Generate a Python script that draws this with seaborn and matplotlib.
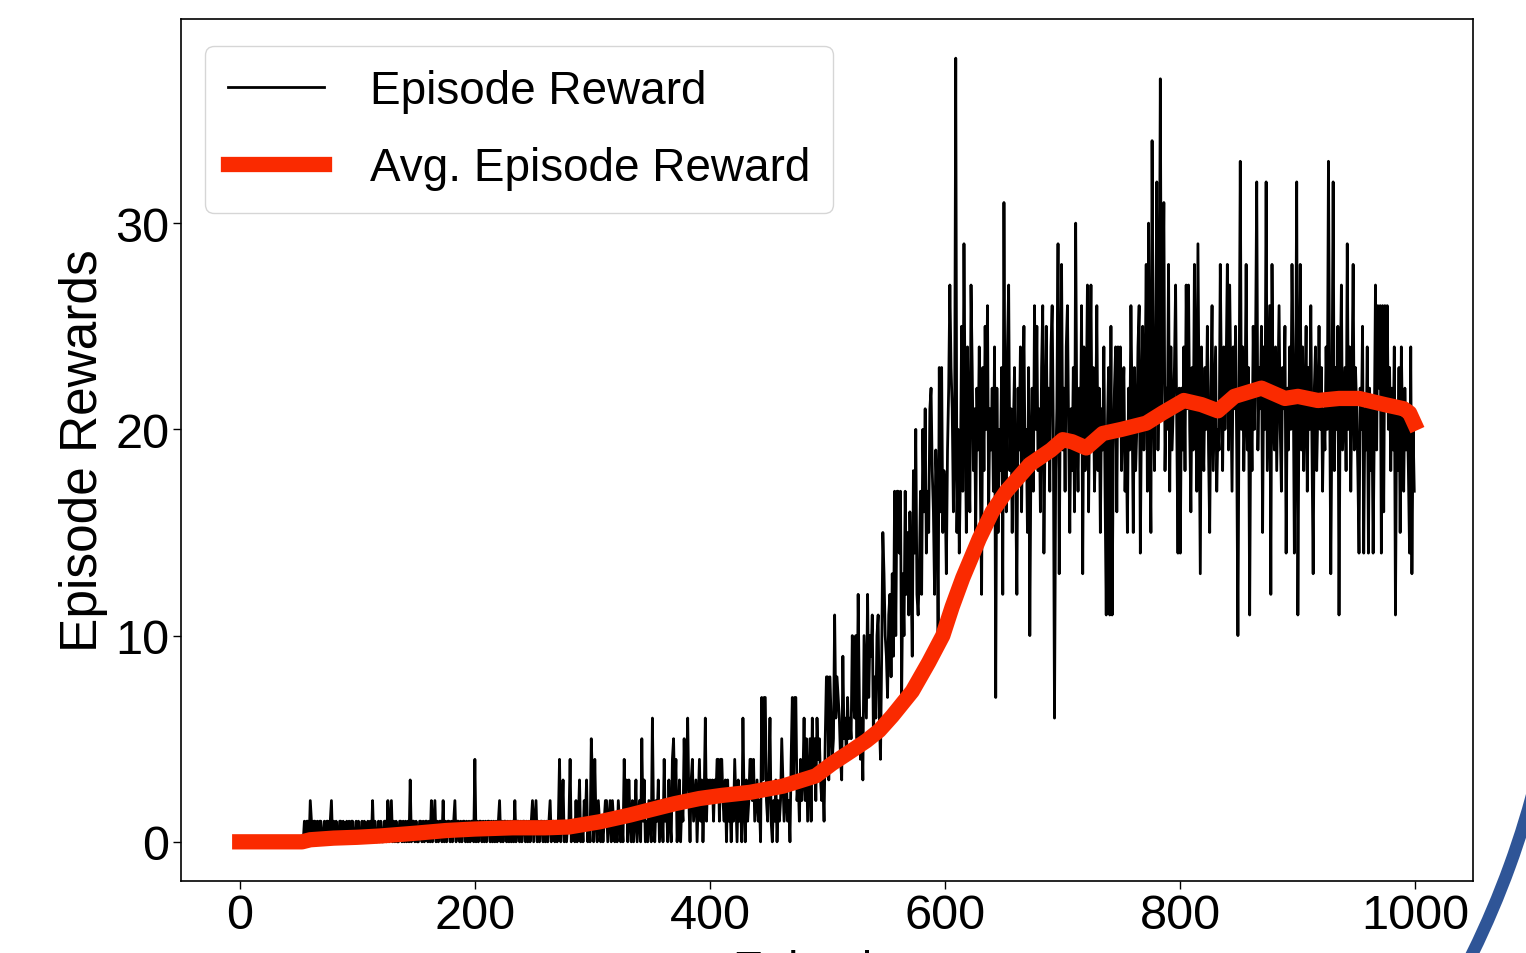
import matplotlib
matplotlib.use("Agg")
import matplotlib.pyplot as plt
from matplotlib.patches import Arc
from matplotlib.transforms import IdentityTransform
import pandas as pd
import seaborn as sns

# ---------------- data ----------------
rewards_000_099 = [
    0, 0, 0, 0, 0, 0, 0, 0, 0, 0, 0, 0, 0, 0, 0, 0, 0, 0, 0, 0,
    0, 0, 0, 0, 0, 0, 0, 0, 0, 0, 0, 0, 0, 0, 0, 0, 0, 0, 0, 0,
    0, 0, 0, 0, 0, 0, 0, 0, 0, 0, 0, 0, 0, 0, 0, 1, 0, 1, 1, 0,
    2, 1, 0, 1, 1, 0, 1, 0, 1, 1, 0, 0, 1, 0, 1, 1, 0, 1, 2, 0,
    1, 0, 1, 0, 0, 1, 1, 0, 1, 0, 0, 1, 0, 1, 0, 1, 1, 0, 0, 1,
]
rewards_100_199 = [
    0, 1, 0, 0, 1, 0, 1, 0, 0, 1, 0, 1, 0, 2, 0, 1, 0, 0, 1, 0,
    1, 0, 0, 1, 1, 0, 2, 0, 1, 2, 0, 1, 0, 1, 0, 0, 1, 1, 0, 1,
    0, 1, 0, 1, 0, 3, 0, 1, 1, 0, 1, 0, 0, 1, 1, 0, 1, 0, 1, 1,
    0, 1, 0, 2, 0, 1, 2, 0, 1, 0, 1, 1, 0, 2, 0, 1, 0, 1, 1, 0,
    1, 0, 1, 2, 0, 1, 1, 0, 1, 0, 1, 1, 0, 1, 0, 1, 0, 1, 1, 0,
]
rewards_200_299 = [
    4, 0, 1, 0, 1, 1, 0, 1, 0, 1, 0, 1, 1, 0, 1, 0, 1, 0, 1, 0,
    1, 2, 0, 1, 0, 1, 1, 0, 1, 0, 1, 0, 1, 0, 2, 0, 1, 1, 0, 1,
    0, 1, 1, 0, 1, 0, 1, 0, 1, 2, 0, 1, 2, 0, 1, 0, 1, 1, 0, 1,
    0, 1, 0, 1, 2, 0, 1, 1, 0, 1, 0, 1, 4, 0, 1, 3, 0, 1, 0, 1,
    1, 4, 0, 1, 1, 0, 2, 0, 1, 3, 0, 1, 0, 2, 1, 3, 0, 1, 0, 5,
]
rewards_300_399 = [
    3, 0, 4, 1, 0, 2, 1, 0, 1, 0, 1, 2, 2, 0, 1, 2, 0, 2, 1, 0,
    1, 0, 2, 1, 0, 1, 0, 4, 1, 3, 0, 3, 1, 0, 2, 0, 1, 3, 0, 1,
    2, 0, 5, 1, 3, 0, 1, 0, 2, 1, 0, 6, 1, 0, 2, 1, 3, 0, 1, 2,
    0, 4, 1, 2, 0, 3, 1, 0, 4, 5, 2, 4, 0, 1, 3, 0, 2, 1, 5, 2,
    3, 6, 2, 0, 3, 4, 1, 2, 3, 0, 2, 4, 1, 3, 0, 2, 6, 1, 3, 2,
]
rewards_400_499 = [
    3, 2, 3, 1, 3, 2, 4, 4, 1, 4, 4, 2, 1, 3, 0, 3, 1, 2, 0, 2,
    1, 4, 2, 0, 3, 1, 2, 0, 6, 2, 0, 3, 1, 2, 4, 4, 2, 4, 1, 2,
    3, 1, 2, 0, 7, 3, 7, 7, 2, 1, 3, 6, 1, 0, 2, 1, 3, 0, 2, 1,
    2, 5, 3, 1, 2, 3, 1, 2, 0, 4, 7, 3, 7, 7, 2, 3, 1, 4, 2, 3,
    6, 2, 5, 1, 3, 5, 1, 6, 3, 5, 2, 6, 4, 5, 3, 2, 3, 1, 5, 8,
]
rewards_500_599 = [
    8, 3, 8, 6, 4, 5, 11, 6, 8, 7, 6, 4, 3, 9, 5, 6, 4, 7, 5, 6,
    5, 10, 7, 6, 10, 5, 12, 7, 4, 6, 3, 10, 8, 6, 12, 7, 10, 9, 11, 5,
    8, 6, 10, 11, 6, 4, 9, 15, 13, 10, 9, 7, 11, 12, 8, 13, 9, 17, 10, 17,
    17, 14, 17, 7, 13, 10, 17, 12, 15, 11, 16, 13, 9, 18, 14, 20, 12, 11, 13, 17,
    12, 20, 16, 21, 14, 17, 15, 21, 22, 18, 16, 12, 19, 17, 10, 23, 16, 23, 15, 18,
]
rewards_600_699 = [
    17, 13, 19, 22, 27, 23, 21, 16, 19, 38, 15, 20, 14, 18, 25, 17, 29, 21, 15, 24,
    19, 16, 27, 23, 18, 21, 15, 22, 19, 24, 17, 12, 23, 18, 25, 20, 26, 16, 21, 19,
    22, 17, 24, 7, 22, 15, 20, 18, 23, 12, 31, 19, 16, 24, 27, 18, 21, 15, 20, 23,
    17, 12, 22, 19, 24, 16, 21, 25, 18, 20, 15, 23, 10, 19, 22, 17, 26, 20, 25, 18,
    21, 16, 23, 26, 14, 20, 25, 19, 22, 17, 24, 26, 20, 6, 18, 21, 29, 13, 22, 28,
]
rewards_700_799 = [
    19, 22, 17, 24, 26, 20, 15, 21, 18, 23, 16, 30, 20, 17, 22, 19, 26, 13, 24, 18,
    21, 27, 16, 22, 27, 19, 23, 17, 20, 26, 18, 22, 15, 21, 19, 24, 17, 11, 20, 23,
    11, 25, 11, 19, 22, 24, 16, 24, 20, 24, 18, 21, 23, 17, 20, 15, 22, 19, 26, 21,
    15, 23, 18, 20, 24, 26, 14, 21, 25, 19, 22, 28, 17, 30, 20, 15, 34, 22, 18, 24,
    32, 19, 23, 37, 21, 25, 31, 18, 22, 20, 28, 17, 24, 19, 21, 23, 27, 20, 14, 22,
]
rewards_800_899 = [
    14, 22, 19, 24, 18, 27, 21, 27, 20, 16, 23, 19, 28, 22, 17, 29, 21, 13, 24, 20,
    18, 23, 20, 25, 19, 15, 22, 26, 18, 21, 24, 17, 20, 19, 28, 22, 18, 24, 20, 23,
    28, 19, 27, 22, 17, 24, 21, 25, 19, 10, 22, 33, 20, 24, 18, 21, 28, 19, 23, 11,
    22, 18, 25, 20, 24, 32, 19, 23, 21, 25, 15, 24, 20, 32, 18, 22, 26, 12, 28, 21,
    19, 24, 18, 22, 26, 20, 17, 23, 21, 25, 14, 22, 19, 24, 20, 28, 23, 14, 21, 32,
]
rewards_900_999 = [
    11, 22, 28, 19, 24, 18, 21, 25, 17, 23, 20, 26, 19, 13, 22, 24, 18, 21, 25, 20,
    23, 17, 21, 19, 24, 20, 33, 22, 13, 21, 32, 18, 23, 20, 25, 11, 22, 27, 19, 21,
    23, 18, 29, 20, 24, 17, 22, 28, 19, 23, 21, 18, 14, 22, 20, 25, 14, 21, 19, 24,
    14, 22, 18, 21, 14, 20, 27, 19, 26, 22, 26, 14, 26, 16, 26, 21, 26, 20, 23, 18,
    22, 19, 24, 11, 21, 18, 23, 15, 24, 20, 17, 22, 19, 21, 18, 14, 24, 13, 20, 17,
]

avg_episodes = [0, 53, 60, 80, 100, 119, 150, 176, 200, 232, 260, 280, 306, 332,
                349, 370, 391, 410, 434, 462, 490, 504, 520, 533, 544, 555, 572,
                586, 598, 606, 615, 629, 640, 652, 672, 690, 700, 708, 720, 734,
                750, 771, 785, 803, 818, 832, 846, 869, 889, 900, 917, 935, 952,
                974, 990, 995, 999]
avg_values = [0.0, 0.0, 0.1, 0.18, 0.22, 0.28, 0.42, 0.55, 0.62, 0.68, 0.68, 0.72,
              0.97, 1.3, 1.55, 1.85, 2.1, 2.25, 2.4, 2.7, 3.2, 3.8, 4.4, 4.9, 5.4,
              6.1, 7.3, 8.7, 10.0, 11.4, 12.8, 14.7, 16.0, 17.0, 18.3, 19.0, 19.5,
              19.4, 19.1, 19.8, 20.0, 20.3, 20.8, 21.4, 21.2, 20.9, 21.6, 22.0,
              21.5, 21.6, 21.4, 21.5, 21.5, 21.2, 21.0, 20.8, 20.3]

x_ticks = [0, 200, 400, 600, 800, 1000]
y_ticks = [0, 10, 20, 30]

# ---------------- plotting ----------------
rewards = (rewards_000_099 + rewards_100_199 + rewards_200_299 + rewards_300_399
           + rewards_400_499 + rewards_500_599 + rewards_600_699 + rewards_700_799
           + rewards_800_899 + rewards_900_999)
episodes = list(range(len(rewards)))

df_reward = pd.DataFrame({"Episode": episodes, "Reward": rewards})
df_avg = pd.DataFrame({"Episode": avg_episodes, "Avg": avg_values})

sns.set_theme(style="white")
plt.rcParams["font.family"] = ["Liberation Sans", "DejaVu Sans"]
plt.rcParams["text.color"] = "black"
plt.rcParams["axes.labelcolor"] = "black"
plt.rcParams["xtick.color"] = "black"
plt.rcParams["ytick.color"] = "black"
plt.rcParams["lines.solid_capstyle"] = "projecting"

W, H = 1526, 954
fig = plt.figure(figsize=(W / 100, H / 100), dpi=100)
ax = fig.add_axes([181 / W, 1 - 882 / H, (1473 - 181) / W, (882 - 20) / H])

sns.lineplot(data=df_reward, x="Episode", y="Reward", ax=ax, color="black",
             linewidth=2.0, estimator=None, sort=False, label="Episode Reward")
sns.lineplot(data=df_avg, x="Episode", y="Avg", ax=ax, color="#fa2a00",
             linewidth=11, estimator=None, sort=False,
             label="Avg. Episode Reward")

ax.set_xlim(-49.95, 1048.95)
ax.set_ylim(-1.9, 39.9)
ax.set_xticks(x_ticks)
ax.set_yticks(y_ticks)
ax.set_xticklabels([str(t) for t in x_ticks], fontsize=35, color="black")
ax.set_yticklabels([str(t) for t in y_ticks], fontsize=35, color="black")
ax.tick_params(axis="both", which="major", bottom=True, left=True,
               direction="out", length=5.5, width=1.0, color="black", pad=3)

for sp in ax.spines.values():
    sp.set_color("black")
    sp.set_linewidth(1.2)

ax.set_xlabel("Episodes", fontsize=33, labelpad=8, color="black")
ax.set_ylabel("Episode Rewards", fontsize=37, labelpad=5, color="black")

leg = ax.legend(loc="upper left", bbox_to_anchor=((205 - 181) / 1292, (882 - 47) / 862),
                borderaxespad=0, fontsize=33, handlelength=2.1, handletextpad=1.0,
                labelspacing=0.72, borderpad=0.5, frameon=True, fancybox=True,
                framealpha=0.8, edgecolor="0.8")
for t in leg.get_texts():
    t.set_color("black")

# slide decoration arc at the lower right corner
fig.add_artist(Arc((664, 395), 1800, 1800, theta1=-32, theta2=-8,
                   color="#2f5597", linewidth=9, transform=IdentityTransform()))

fig.savefig("out.png", dpi=100)
